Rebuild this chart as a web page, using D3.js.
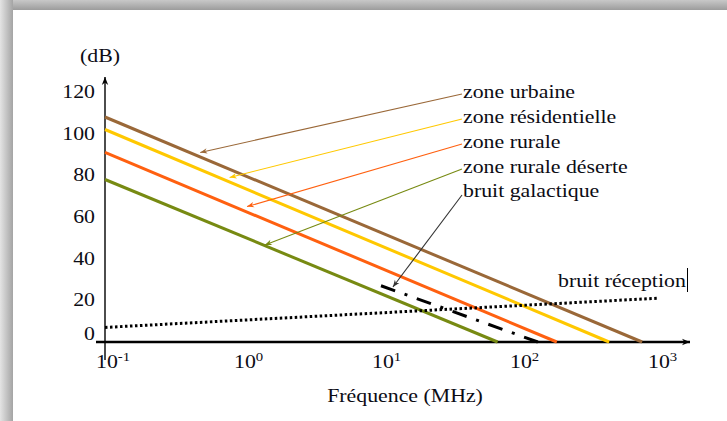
<!DOCTYPE html>
<html>
<head>
<meta charset="utf-8">
<script src="https://cdn.jsdelivr.net/npm/d3@7"></script>
<style>
  body { margin: 0; background: #fff; }
  text { font-family: "Liberation Serif", "Times New Roman", serif; fill: #0c0c14; }
</style>
</head>
<body>
<div class="chart"></div>
<script>
// axis ticks
const freqTicks = [0.1, 1, 10, 100, 1000];
const freqExp = ["-1", "0", "1", "2", "3"];
const dbTicks = [0, 20, 40, 60, 80, 100, 120];

// path-loss lines: dB at 0.1 MHz, frequency (MHz) where they reach 0 dB
const zoneNames = ["zone urbaine", "zone résidentielle", "zone rurale", "zone rurale déserte"];
const zoneColors = ["#9a6838", "#ffc800", "#ff6010", "#778a12"];
const zoneStart = [108, 102, 91, 78];
const zoneEnd = [780, 450, 188, 70];
const zoneArrow = [[0.49, 91], [0.8, 79], [1.07, 65], [1.44, 46.6]];

// noise lines [MHz, dB]
const galactic = [[10, 27], [137, 0]];
const galacticArrow = [12.2, 26.4];
const reception = [[0.1, 7], [1000, 21]];

const W = 727, H = 421;
const x = d3.scaleLog().domain([0.1, 1000]).range([105, 657]);
const y = d3.scaleLinear().domain([0, 120]).range([342, 92]);
const sx = 1.18; // text looks stretched horizontally in the original

const svg = d3.select(".chart").append("svg")
    .attr("width", W).attr("height", H);
const defs = svg.append("defs");

// frame shadow
const gTop = defs.append("linearGradient").attr("id", "shTop")
    .attr("x1", 0).attr("y1", 0).attr("x2", 0).attr("y2", 1);
gTop.append("stop").attr("offset", "0%").attr("stop-color", "#c8c8c8");
gTop.append("stop").attr("offset", "100%").attr("stop-color", "#9c9c9c");
const gLeft = defs.append("linearGradient").attr("id", "shLeft")
    .attr("x1", 0).attr("y1", 0).attr("x2", 1).attr("y2", 0);
gLeft.append("stop").attr("offset", "0%").attr("stop-color", "#e4e4e4");
gLeft.append("stop").attr("offset", "100%").attr("stop-color", "#a4a4a4");

svg.append("rect").attr("width", W).attr("height", H).attr("fill", "#fff");
svg.append("rect").attr("x", 0).attr("y", 0).attr("width", W).attr("height", 10).attr("fill", "url(#shTop)");
svg.append("rect").attr("x", 0).attr("y", 0).attr("width", 13).attr("height", H).attr("fill", "url(#shLeft)");

// arrow markers
function marker(id, color, w, h) {
  defs.append("marker").attr("id", id)
      .attr("viewBox", "0 0 10 10").attr("refX", 10).attr("refY", 5)
      .attr("markerUnits", "userSpaceOnUse")
      .attr("markerWidth", w).attr("markerHeight", h)
      .attr("orient", "auto")
    .append("path").attr("d", "M0,1 L10,5 L0,9 L3,5 Z").attr("fill", color);
}
zoneColors.forEach((c, i) => marker("arr" + i, c, 9, 7));
marker("arrK", "#333", 9, 7);
marker("axisArr", "#000", 11, 8);

function label(g, px, py, str, anchor) {
  return g.append("text")
      .attr("transform", `translate(${px},${py}) scale(${sx},1)`)
      .attr("text-anchor", anchor || "start")
      .style("font-size", "18.5px")
      .text(str);
}

const g = svg.append("g");

// axes
g.append("line").attr("x1", 105).attr("x2", 105).attr("y1", 360).attr("y2", 77)
    .attr("stroke", "#000").attr("stroke-width", 1.4).attr("marker-end", "url(#axisArr)");
g.append("line").attr("x1", 96).attr("x2", 690).attr("y1", y(0)).attr("y2", y(0))
    .attr("stroke", "#000").attr("stroke-width", 2.6).attr("marker-end", "url(#axisArr)");

dbTicks.forEach(d => {
  label(g, 95, y(d) + 6 - (d === 0 ? 8 : 0), d, "end");
});
label(g, 80, 62, "(dB)");

freqTicks.forEach((f, i) => {
  const t = g.append("text")
      .attr("transform", `translate(${x(f) - 9},368) scale(${sx},1)`)
      .style("font-size", "18.5px");
  t.append("tspan").text("10");
  t.append("tspan").attr("dy", -7).style("font-size", "12.5px").text(freqExp[i]);
});
label(g, 405, 402, "Fréquence (MHz)", "middle");

const line = d3.line().x(d => x(d[0])).y(d => y(d[1]));

// zone lines
zoneNames.forEach((n, i) => {
  g.append("path")
      .datum([[0.1, zoneStart[i]], [zoneEnd[i], 0]])
      .attr("d", line)
      .attr("fill", "none")
      .attr("stroke", zoneColors[i])
      .attr("stroke-width", 3);
});

// noise lines
g.append("path").datum(reception).attr("d", line)
    .attr("fill", "none").attr("stroke", "#000")
    .attr("stroke-width", 3).attr("stroke-dasharray", "2.5,2.5");
g.append("path").datum(galactic).attr("d", line)
    .attr("fill", "none").attr("stroke", "#000")
    .attr("stroke-width", 3).attr("stroke-dasharray", "15,10,3,10");

// labels with leader arrows
const labelX = 463;
const labelY = [98, 123, 148, 173];
zoneNames.forEach((n, i) => {
  g.append("line")
      .attr("x1", labelX - 1).attr("y1", labelY[i] - 4)
      .attr("x2", x(zoneArrow[i][0])).attr("y2", y(zoneArrow[i][1]))
      .attr("stroke", zoneColors[i]).attr("stroke-width", 1.1)
      .attr("marker-end", `url(#arr${i})`);
  label(g, labelX, labelY[i], n);
});
g.append("line")
    .attr("x1", labelX - 1).attr("y1", 195)
    .attr("x2", x(galacticArrow[0])).attr("y2", y(galacticArrow[1]))
    .attr("stroke", "#333").attr("stroke-width", 1.1)
    .attr("marker-end", "url(#arrK)");
label(g, labelX, 197, "bruit galactique");

label(g, 558, 287, "bruit réception");
g.append("line").attr("x1", 687.5).attr("x2", 687.5).attr("y1", 268).attr("y2", 292)
    .attr("stroke", "#000").attr("stroke-width", 1);
</script>
</body>
</html>
